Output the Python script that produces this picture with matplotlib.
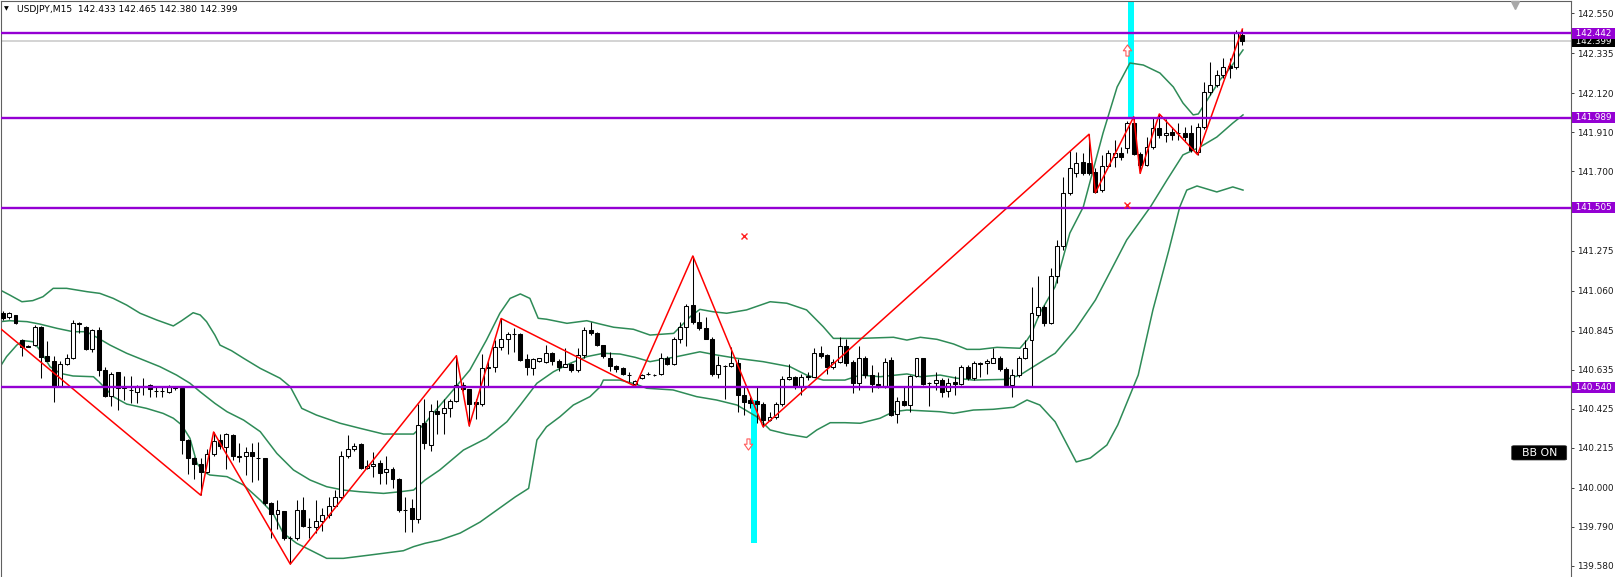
import matplotlib
matplotlib.use('Agg')
import matplotlib.pyplot as plt
import numpy as np
from matplotlib.transforms import blended_transform_factory
from matplotlib.patches import FancyBboxPatch
from matplotlib.path import Path

plt.rcParams['font.family'] = ['DejaVu Sans']

# ---------------- data (USDJPY M15) ----------------
symbol_title = "USDJPY,M15  142.433 142.465 142.380 142.399"

opens = [140.939, 140.916, 140.928, 140.794, 140.760, 140.765, 140.863, 140.708, 140.680, 140.547,
         140.665, 140.700, 140.885, 140.865, 140.748, 140.850, 140.633, 140.493, 140.620, 140.540,
         140.526, 140.517, 140.545, 140.550, 140.520, 140.520, 140.517, 140.540, 140.537, 140.257,
         140.158, 140.130, 140.085, 140.180, 140.257, 140.220, 140.285, 140.170, 140.170, 140.190,
         140.160, 140.158, 139.917, 139.858, 139.875, 139.730, 139.730, 139.880, 139.790, 139.790,
         139.820, 139.855, 139.900, 139.950, 140.170, 140.210, 140.233, 140.104, 140.118, 140.135,
         140.085, 140.100, 140.050, 139.880, 139.890, 139.830, 140.350, 140.230, 140.414, 140.400,
         140.430, 140.465, 140.550, 140.530, 140.460, 140.450, 140.645, 140.650, 140.757, 140.800,
         140.826, 140.826, 140.690, 140.643, 140.680, 140.678, 140.723, 140.683, 140.650, 140.665,
         140.633, 140.713, 140.850, 140.833, 140.767, 140.700, 140.652, 140.643, 140.608, 140.560,
         140.590, 140.610, 140.605, 140.610, 140.700, 140.665, 140.800, 140.865, 140.980, 140.893,
         140.857, 140.800, 140.610, 140.656, 140.655, 140.670, 140.499, 140.470, 140.465, 140.450,
         140.364, 140.378, 140.450, 140.585, 140.597, 140.540, 140.600, 140.597, 140.723, 140.713,
         140.650, 140.678, 140.760, 140.678, 140.565, 140.700, 140.606, 140.560, 140.540, 140.687,
         140.396, 140.467, 140.445, 140.600, 140.695, 140.565, 140.565, 140.580, 140.520, 140.570,
         140.560, 140.647, 140.590, 140.670, 140.670, 140.670, 140.695, 140.640, 140.555, 140.606,
         140.695, 140.794, 140.930, 140.973, 140.884, 141.140, 141.300, 141.586, 141.690, 141.752,
         141.745, 141.699, 141.600, 141.731, 141.780, 141.800, 141.824, 141.959, 141.794, 141.735,
         141.833, 141.932, 141.895, 141.910, 141.905, 141.908, 141.905, 141.806, 141.940, 142.129,
         142.165, 142.219, 142.268, 142.260, 142.433]

highs = [140.950, 140.946, 140.930, 140.800, 140.765, 140.875, 140.870, 140.790, 140.710, 140.680,
         140.720, 140.900, 140.890, 140.870, 140.855, 140.865, 140.650, 140.620, 140.625, 140.600,
         140.600, 140.554, 140.590, 140.560, 140.545, 140.545, 140.554, 140.545, 140.540, 140.260,
         140.163, 140.160, 140.210, 140.300, 140.290, 140.295, 140.290, 140.240, 140.220, 140.240,
         140.245, 140.160, 139.925, 139.935, 139.875, 139.740, 139.935, 139.950, 139.840, 139.935,
         139.890, 139.950, 139.990, 140.200, 140.283, 140.240, 140.240, 140.150, 140.190, 140.150,
         140.170, 140.110, 140.055, 139.950, 139.940, 140.450, 140.480, 140.450, 140.470, 140.480,
         140.476, 140.710, 140.570, 140.530, 140.480, 140.720, 140.680, 140.794, 140.910, 140.840,
         140.860, 140.830, 140.720, 140.700, 140.700, 140.767, 140.730, 140.690, 140.750, 140.670,
         140.750, 140.862, 140.893, 140.840, 140.770, 140.730, 140.660, 140.650, 140.620, 140.580,
         140.610, 140.625, 140.612, 140.723, 140.710, 140.810, 140.893, 140.990, 141.246, 140.946,
         140.916, 140.810, 140.706, 140.660, 140.758, 140.690, 140.543, 140.490, 140.540, 140.460,
         140.410, 140.460, 140.600, 140.665, 140.600, 140.610, 140.620, 140.750, 140.760, 140.720,
         140.690, 140.810, 140.800, 140.687, 140.762, 140.710, 140.660, 140.620, 140.700, 140.705,
         140.490, 140.540, 140.606, 140.700, 140.700, 140.570, 140.624, 140.590, 140.590, 140.600,
         140.660, 140.660, 140.680, 140.675, 140.690, 140.750, 140.710, 140.650, 140.640, 140.710,
         140.794, 141.080, 141.140, 140.980, 141.180, 141.330, 141.672, 141.815, 141.806, 141.800,
         141.900, 141.720, 141.788, 141.815, 141.869, 141.830, 141.970, 141.994, 141.806, 141.887,
         141.986, 142.009, 141.980, 141.940, 141.960, 141.940, 141.950, 141.960, 142.182, 142.290,
         142.245, 142.308, 142.310, 142.460, 142.465]

lows = [140.900, 140.906, 140.880, 140.710, 140.755, 140.760, 140.590, 140.680, 140.460, 140.540,
        140.660, 140.690, 140.830, 140.740, 140.730, 140.600, 140.490, 140.440, 140.420, 140.470,
        140.455, 140.455, 140.500, 140.490, 140.490, 140.490, 140.510, 140.526, 140.180, 140.074,
        140.050, 139.960, 140.080, 140.170, 140.210, 140.100, 140.150, 140.140, 140.070, 140.030,
        140.040, 139.910, 139.730, 139.780, 139.720, 139.590, 139.720, 139.790, 139.730, 139.755,
        139.770, 139.840, 139.900, 139.940, 140.160, 140.200, 140.100, 140.100, 140.060, 140.020,
        140.020, 140.000, 139.870, 139.760, 139.760, 139.810, 140.210, 140.200, 140.290, 140.290,
        140.380, 140.460, 140.520, 140.333, 140.370, 140.440, 140.540, 140.625, 140.740, 140.720,
        140.730, 140.680, 140.606, 140.606, 140.675, 140.670, 140.660, 140.630, 140.648, 140.620,
        140.620, 140.700, 140.820, 140.760, 140.700, 140.630, 140.620, 140.605, 140.570, 140.545,
        140.585, 140.605, 140.600, 140.605, 140.660, 140.660, 140.776, 140.760, 140.880, 140.848,
        140.800, 140.600, 140.590, 140.477, 140.650, 140.410, 140.390, 140.430, 140.350, 140.328,
        140.360, 140.370, 140.440, 140.580, 140.530, 140.500, 140.580, 140.597, 140.700, 140.610,
        140.640, 140.670, 140.655, 140.510, 140.526, 140.590, 140.516, 140.535, 140.535, 140.385,
        140.350, 140.440, 140.410, 140.595, 140.550, 140.440, 140.526, 140.490, 140.490, 140.500,
        140.555, 140.580, 140.580, 140.595, 140.610, 140.670, 140.630, 140.550, 140.490, 140.595,
        140.690, 140.540, 140.920, 140.870, 140.880, 141.100, 141.280, 141.574, 141.670, 141.680,
        141.680, 141.586, 141.590, 141.730, 141.726, 141.760, 141.800, 141.790, 141.690, 141.730,
        141.820, 141.880, 141.860, 141.870, 141.870, 141.860, 141.806, 141.790, 141.930, 142.110,
        142.155, 142.200, 142.200, 142.250, 142.380]

closes = [140.912, 140.937, 140.884, 140.755, 140.758, 140.863, 140.705, 140.683, 140.547, 140.665,
          140.700, 140.885, 140.880, 140.748, 140.850, 140.633, 140.493, 140.612, 140.535, 140.537,
          140.524, 140.545, 140.543, 140.530, 140.518, 140.518, 140.545, 140.538, 140.257, 140.158,
          140.130, 140.085, 140.181, 140.250, 140.226, 140.290, 140.170, 140.168, 140.190, 140.170,
          140.158, 139.917, 139.858, 139.880, 139.730, 139.728, 139.880, 139.795, 139.788, 139.820,
          139.855, 139.900, 139.950, 140.170, 140.210, 140.225, 140.104, 140.118, 140.130, 140.080,
          140.100, 140.050, 139.880, 139.882, 139.830, 140.335, 140.240, 140.415, 140.398, 140.430,
          140.465, 140.550, 140.530, 140.450, 140.450, 140.645, 140.650, 140.757, 140.800, 140.825,
          140.824, 140.687, 140.648, 140.690, 140.695, 140.723, 140.683, 140.650, 140.665, 140.633,
          140.713, 140.850, 140.830, 140.767, 140.708, 140.652, 140.640, 140.610, 140.605, 140.575,
          140.605, 140.612, 140.607, 140.700, 140.665, 140.800, 140.865, 140.976, 140.893, 140.857,
          140.800, 140.610, 140.660, 140.657, 140.670, 140.499, 140.463, 140.457, 140.450, 140.364,
          140.378, 140.450, 140.585, 140.597, 140.540, 140.597, 140.598, 140.723, 140.708, 140.650,
          140.678, 140.762, 140.670, 140.565, 140.700, 140.606, 140.560, 140.544, 140.678, 140.391,
          140.467, 140.445, 140.600, 140.695, 140.558, 140.563, 140.580, 140.517, 140.565, 140.558,
          140.647, 140.590, 140.670, 140.668, 140.680, 140.700, 140.640, 140.555, 140.606, 140.700,
          140.750, 140.937, 140.973, 140.884, 141.140, 141.300, 141.586, 141.717, 141.744, 141.690,
          141.690, 141.588, 141.731, 141.798, 141.800, 141.780, 141.959, 141.794, 141.735, 141.833,
          141.932, 141.895, 141.905, 141.896, 141.905, 141.887, 141.815, 141.940, 142.129, 142.165,
          142.219, 142.263, 142.258, 142.443, 142.399]

# Bollinger bands (bar index, price)
bb_up_idx = [-0.4, 1.1, 3.0, 4.7, 6.3, 7.9, 10.0, 13.2, 15.2, 17.3, 19.4, 21.5, 24.1, 26.7, 28.0, 29.8,
             30.9, 31.9, 33.2, 34.0, 35.8, 37.7, 40.3, 43.4, 45.0, 46.8, 49.1, 52.8, 55.9, 59.6, 62.2,
             64.3, 66.1, 66.9, 70.5, 73.1, 75.7, 77.8, 79.4, 81.0, 82.5, 83.8, 85.1, 88.3, 91.4, 93.5,
             95.6, 98.7, 101.3, 105.0, 107.6, 109.1, 111.2, 113.3, 116.4, 120.1, 122.7, 125.8, 128.4,
             130.0, 131.8, 134.2, 139.4, 141.5, 143.6, 146.2, 148.8, 150.9, 152.9, 155.6, 159.2, 160.3,
             161.0, 162.3, 164.7, 167.0, 169.1, 172.2, 174.4, 176.4, 178.5, 181.1, 183.2, 184.7, 186.3,
             187.1, 188.2, 189.3, 190.5, 192.1, 194.1]
bb_up_val = [141.063, 141.036, 141.000, 141.006, 141.027, 141.072, 141.072, 141.054, 141.045, 141.018,
             140.982, 140.938, 140.902, 140.870, 140.898, 140.941, 140.929, 140.893, 140.821, 140.767,
             140.737, 140.696, 140.642, 140.589, 140.543, 140.427, 140.391, 140.347, 140.320, 140.289,
             140.289, 140.289, 140.347, 140.382, 140.526, 140.633, 140.794, 140.938, 141.018, 141.042,
             141.018, 140.911, 140.906, 140.884, 140.898, 140.880, 140.863, 140.852, 140.821, 140.830,
             140.920, 140.959, 140.946, 140.938, 140.956, 141.000, 140.992, 140.956, 140.866, 140.803,
             140.803, 140.803, 140.809, 140.794, 140.809, 140.798, 140.773, 140.744, 140.744, 140.755,
             140.750, 140.794, 140.830, 140.938, 141.081, 141.369, 141.509, 141.907, 142.154, 142.283,
             142.272, 142.229, 142.154, 142.068, 142.004, 142.009, 142.068, 142.127, 142.192, 142.256,
             142.353]

bb_mid_idx = [-0.4, 1.1, 3.8, 5.8, 8.5, 11.0, 13.1, 14.7, 16.8, 19.4, 22.0, 24.6, 27.2, 29.3, 30.9,
              33.2, 35.1, 37.7, 40.3, 42.9, 45.5, 48.1, 50.7, 53.3, 55.9, 59.6, 62.2, 64.3, 66.1, 68.4,
              72.1, 75.7, 78.9, 81.0, 83.6, 86.2, 88.8, 91.4, 94.0, 96.6, 99.0, 101.3, 105.5, 109.1,
              111.7, 114.9, 119.0, 123.2, 125.8, 128.4, 131.8, 134.2, 137.3, 141.5, 143.6, 146.7, 149.3,
              151.9, 157.1, 159.2, 161.3, 163.4, 164.7, 167.8, 171.0, 173.3, 175.9, 179.6, 182.2, 184.7,
              187.4, 190.0, 192.5, 194.1]
bb_mid_val = [140.893, 140.898, 140.893, 140.880, 140.857, 140.839, 140.839, 140.809, 140.767, 140.723,
              140.687, 140.651, 140.606, 140.562, 140.516, 140.454, 140.409, 140.364, 140.302, 140.185,
              140.096, 140.042, 140.006, 139.988, 139.979, 139.970, 139.979, 139.988, 140.042, 140.096,
              140.203, 140.266, 140.355, 140.445, 140.562, 140.624, 140.669, 140.705, 140.723, 140.719,
              140.701, 140.678, 140.705, 140.731, 140.714, 140.696, 140.678, 140.651, 140.606, 140.579,
              140.579, 140.606, 140.597, 140.612, 140.597, 140.606, 140.589, 140.579, 140.583, 140.606,
              140.651, 140.696, 140.723, 140.848, 141.009, 141.160, 141.332, 141.509, 141.654, 141.789,
              141.832, 141.885, 141.960, 142.004]

bb_low_idx = [-0.4, 0.6, 2.2, 3.2, 4.8, 5.8, 7.4, 9.0, 11.0, 14.2, 15.2, 17.3, 19.4, 22.5, 25.1, 26.7,
              28.0, 29.3, 30.4, 31.4, 32.4, 35.1, 37.7, 40.3, 42.3, 43.9, 46.0, 48.1, 50.7, 53.3, 57.5,
              62.7, 64.3, 66.1, 68.4, 71.6, 74.7, 77.8, 80.2, 82.3, 83.6, 85.1, 87.2, 89.3, 91.9, 93.5,
              94.0, 96.6, 99.0, 100.8, 104.9, 108.6, 111.7, 114.9, 118.0, 120.1, 122.7, 125.8, 127.4,
              129.5, 131.8, 134.2, 137.3, 139.4, 141.5, 146.7, 148.8, 151.9, 155.0, 158.2, 160.3, 162.3,
              164.7, 168.0, 170.2, 172.8, 174.5, 176.1, 177.7, 180.0, 182.5, 184.2, 185.3, 186.9, 190.0,
              192.5, 194.1]
bb_low_val = [140.651, 140.705, 140.767, 140.791, 140.785, 140.741, 140.651, 140.615, 140.601, 140.597,
              140.565, 140.490, 140.450, 140.427, 140.400, 140.374, 140.338, 140.266, 140.132, 140.087,
              140.069, 140.060, 140.015, 139.934, 139.863, 139.756, 139.702, 139.666, 139.621, 139.621,
              139.639, 139.662, 139.684, 139.702, 139.719, 139.757, 139.816, 139.892, 139.951, 139.997,
              140.257, 140.328, 140.382, 140.445, 140.490, 140.543, 140.579, 140.579, 140.558, 140.535,
              140.526, 140.490, 140.472, 140.445, 140.382, 140.311, 140.289, 140.271, 140.311, 140.350,
              140.350, 140.347, 140.374, 140.409, 140.418, 140.409, 140.400, 140.418, 140.422, 140.433,
              140.472, 140.445, 140.355, 140.139, 140.160, 140.230, 140.338, 140.472, 140.606, 140.956,
              141.278, 141.509, 141.600, 141.622, 141.590, 141.617, 141.600]

# ZigZag swing points (bar index, price)
zz_idx = [-4, 31, 33, 45, 71, 73, 78, 99, 108, 119, 170, 171, 177, 178, 181, 187, 194]
zz_val = [140.96, 139.96, 140.30, 139.59, 140.71, 140.333, 140.91, 140.545, 141.246, 140.328,
          141.90, 141.586, 141.994, 141.69, 142.009, 141.79, 142.465]

# horizontal levels
levels = [142.442, 141.989, 141.505, 140.540]
bid_price = 142.399

# signal histograms (cyan), markers and arrows
sig_idx = [117.5, 176.5]
sig_lo = [139.702, 141.994]
sig_hi = [140.472, 142.700]
cross_idx = [116, 176]
cross_val = [141.355, 141.520]
arrow_idx = [116.7, 176]
arrow_val = [140.236, 142.353]
arrow_dir = ['down', 'up']

# axis labels (141.490 sits under the 141.505 level tag and is not shown)
yticks = [142.550, 142.335, 142.120, 141.910, 141.700, 141.275, 141.060,
          140.845, 140.635, 140.425, 140.215, 140.000, 139.790, 139.580]

# ---------------- figure ----------------
W, H = 1622, 577
fig = plt.figure(figsize=(W / 100, H / 100), dpi=100)
fig.patch.set_facecolor('white')
ax = fig.add_axes([1 / W, 0, 1570 / W, 576 / H])
ax.set_facecolor('white')
ax.set_xlim(-0.27, 245.43)
ax.set_ylim(139.5208, 142.6161)

# cyan signal bars
for xi, lo, hi in zip(sig_idx, sig_lo, sig_hi):
    ax.bar([xi], [hi - lo], bottom=lo, width=0.95, color='#00FFFF', zorder=1.5, lw=0)

# bid line
ax.axhline(bid_price, color='#C8C8C8', lw=1.1, zorder=1)

# bands
band_col = '#2E8B57'
ax.plot(bb_up_idx, bb_up_val, color=band_col, lw=1.1, zorder=2)
ax.plot(bb_mid_idx, bb_mid_val, color=band_col, lw=1.1, zorder=2)
ax.plot(bb_low_idx, bb_low_val, color=band_col, lw=1.1, zorder=2)

# candles
o = np.array(opens); c = np.array(closes); h = np.array(highs); l = np.array(lows)
x = np.arange(len(o))
bull = c >= o
ax.vlines(x, l, h, color='black', lw=0.75, zorder=3)
bw = 0.62
ax.bar(x[bull], (c - o)[bull], bottom=o[bull], width=bw, facecolor='white',
       edgecolor='black', lw=0.75, zorder=4)
ax.bar(x[~bull], (o - c)[~bull], bottom=c[~bull], width=bw, facecolor='black',
       edgecolor='black', lw=0.75, zorder=4)

# zigzag
ax.plot(zz_idx, zz_val, color='#FF0000', lw=1.1, zorder=5)

# purple levels
for lv in levels:
    ax.axhline(lv, color='#9400D3', lw=1.7, zorder=6)

# markers
ax.plot(cross_idx, cross_val, ls='none', marker='x', color='#FF2020', ms=4, mew=1.0, zorder=6)
down_arrow = Path([(-0.28, 1.0), (0.28, 1.0), (0.28, 0.05), (0.75, 0.05), (0.0, -1.0),
                   (-0.75, 0.05), (-0.28, 0.05), (-0.28, 1.0)], closed=True)
up_arrow = Path([(-0.28, -1.0), (0.28, -1.0), (0.28, -0.05), (0.75, -0.05), (0.0, 1.0),
                 (-0.75, -0.05), (-0.28, -0.05), (-0.28, -1.0)], closed=True)
for xi, yv, d in zip(arrow_idx, arrow_val, arrow_dir):
    ax.plot([xi], [yv], ls='none', marker=down_arrow if d == 'down' else up_arrow,
            ms=8, mfc='white', mec='#FF5A5A', mew=0.8, zorder=6)

# axes styling
ax.yaxis.tick_right()
ax.set_yticks(yticks)
ax.set_yticklabels([f'{t:.3f}' for t in yticks])
ax.tick_params(axis='y', direction='out', length=2.5, width=0.7, color='#404040',
               labelsize=6.4, pad=2, labelcolor='#1a1a1a')
ax.set_xticks([])
ax.spines['bottom'].set_visible(False)
for s in ['left', 'right', 'top']:
    ax.spines[s].set_color('#606060')
    ax.spines[s].set_linewidth(0.8)

# chart-shift marker
ax.plot([(1515 - 1) / 1570], [1 - 4 / 576], marker='v', ms=6, color='#A8A8A8',
        transform=ax.transAxes, clip_on=False, zorder=7)

# price labels on the axis
tr = blended_transform_factory(fig.transFigure, ax.transData)
fig.text(1573 / W, bid_price, f' {bid_price:.3f} ', transform=tr, color='white', fontsize=6.3,
         ha='left', va='center', bbox=dict(boxstyle='square,pad=0.1', fc='black', ec='none'))
for lv in levels:
    fig.text(1573 / W, lv, f' {lv:.3f} ', transform=tr, color='white', fontsize=6.3,
             ha='left', va='center', bbox=dict(boxstyle='square,pad=0.1', fc='#9400D3', ec='none'))

# title
fig.text(4 / W, 1 - 9 / H, '\u25BC', fontsize=4.5, ha='left', va='center', color='black')
fig.text(16.7 / W, 1 - 9 / H, symbol_title, fontsize=6.6, ha='left', va='center', color='black')

# BB ON button
btn = FancyBboxPatch((1511.7 / W, 1 - 460 / H), 55 / W, 14.3 / H,
                     boxstyle='round,pad=0,rounding_size=0.0015', transform=fig.transFigure,
                     fc='black', ec='#303030', lw=0.5)
fig.add_artist(btn)
fig.text(1539.2 / W, 1 - 453 / H, 'BB ON', fontsize=7.8, color='white', ha='center', va='center')

fig.savefig('out.png', dpi=100, facecolor='white')
